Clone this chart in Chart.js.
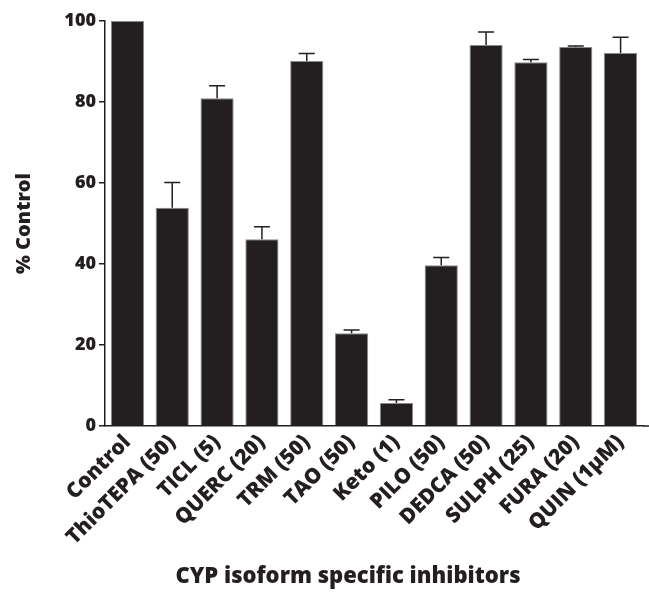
<!DOCTYPE html>
<html><head><meta charset="utf-8">
<script src="https://cdn.jsdelivr.net/npm/chart.js@4"></script>
<style>html,body{margin:0;padding:0;background:#fff}#wrap{width:649px;height:595px;position:relative}</style>
</head><body><div id="wrap"><canvas id="c" width="649" height="595"></canvas></div>
<script>
const categories = ["Control","ThioTEPA (50)","TICL (5)","QUERC (20)","TRM (50)","TAO (50)","Keto (1)","PILO (50)","DEDCA (50)","SULPH (25)","FURA (20)","QUIN (1μM)"];
const means = [100, 53.9, 80.9, 46.1, 90.1, 22.9, 5.7, 39.7, 94.1, 89.8, 93.6, 92.1];
const errors = [0, 6.2, 3.1, 3.1, 1.9, 0.8, 0.8, 1.9, 3.2, 0.7, 0.2, 3.9];
const yTicks = [0, 20, 40, 60, 80, 100];
const yTitle = "% Control";
const xTitle = "CYP isoform specific inhibitors";

const INK = '#231f20';
const FONT = '"Open Sans", Lato, sans-serif';

const errorBars = {
  id: 'errorBars',
  afterDatasetsDraw(chart) {
    const meta = chart.getDatasetMeta(0);
    const ys = chart.scales.y;
    const ctx = chart.ctx;
    ctx.save();
    ctx.strokeStyle = INK;
    ctx.lineWidth = 1.5;
    meta.data.forEach((bar, i) => {
      if (!errors[i]) return;
      const top = ys.getPixelForValue(means[i] + errors[i]);
      ctx.beginPath();
      ctx.moveTo(bar.x, bar.y);
      ctx.lineTo(bar.x, top);
      ctx.moveTo(bar.x - 8, top);
      ctx.lineTo(bar.x + 8, top);
      ctx.stroke();
    });
    ctx.restore();
  }
};

const extras = {
  id: 'extras',
  afterDraw(chart) {
    const ctx = chart.ctx;
    const a = chart.chartArea;
    ctx.save();
    ctx.strokeStyle = INK;
    ctx.lineWidth = 1.5;
    ctx.beginPath();
    ctx.moveTo(a.right, a.bottom);
    ctx.lineTo(chart.width, a.bottom);
    ctx.stroke();
    ctx.fillStyle = INK;
    ctx.font = '800 22px ' + FONT;
    ctx.textAlign = 'center';
    ctx.textBaseline = 'middle';
    ctx.fillText(xTitle, 348, 577);
    ctx.restore();
  }
};

new Chart(document.getElementById('c'), {
  type: 'bar',
  data: {
    labels: categories,
    datasets: [{
      data: means,
      backgroundColor: INK,
      borderColor: '#8a8888',
      borderWidth: 1,
      categoryPercentage: 1,
      barPercentage: 0.74
    }]
  },
  options: {
    responsive: false,
    animation: false,
    devicePixelRatio: 1,
    layout: { padding: { top: 21, right: 6, left: 0, bottom: 0 } },
    plugins: { legend: { display: false }, tooltip: { enabled: false } },
    scales: {
      x: {
        grid: { display: false, drawTicks: false },
        border: { display: true, color: INK, width: 1.5 },
        ticks: {
          color: INK, font: { family: FONT, size: 21, weight: '800' },
          maxRotation: 45, minRotation: 45, padding: 4, autoSkip: false
        },
        afterFit(s) { s.height = 169; }
      },
      y: {
        min: 0, max: 100,
        afterBuildTicks(s) { s.ticks = yTicks.map(v => ({ value: v })); },
        grid: { display: true, drawOnChartArea: false, drawTicks: true, tickLength: 6, color: INK, lineWidth: 1.5 },
        border: { display: true, color: INK, width: 1.5 },
        ticks: { color: INK, font: { family: FONT, size: 18, weight: '800' }, padding: 3 },
        title: { display: true, text: yTitle, color: INK, font: { family: FONT, size: 20, weight: '800' }, padding: { top: 12, bottom: 0 } },
        afterFit(s) { s.width = 105; }
      }
    }
  },
  plugins: [errorBars, extras]
});
</script>
</body></html>
